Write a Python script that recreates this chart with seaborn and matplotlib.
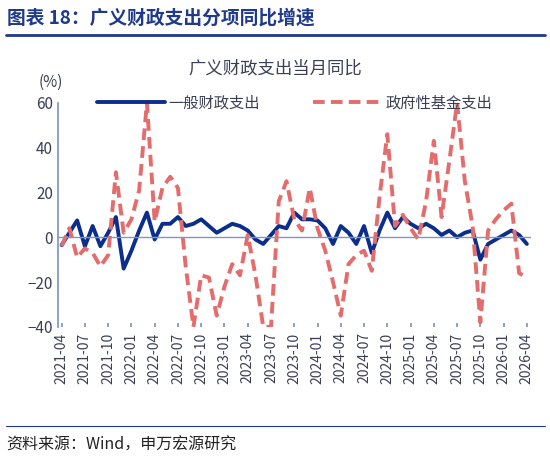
import matplotlib
matplotlib.use("Agg")
import matplotlib.pyplot as plt
import seaborn as sns
import pandas as pd

months = pd.period_range("2021-04", "2026-04", freq="M").strftime("%Y-%m").tolist()
general = [-3.5, 2, 7.5, -4, 5, -4, 2, 9, -14, -6, 3, 11, -1, 6, 6, 9, 5, 6, 8, 5, 2, 4, 6, 5, 3, -1, -3, 1, 5, 4,
           11, 8, 8, 7.5, 4, -3, 5, 2, -3, 5, -7, 3, 11, 4, 9, 6, 4, 6, 4, 1, 3, 0, 2, 3, -10, -3, -1, 1, 3, 1, -3]
fund = [-4, 4, -9, -5, -7, -13, -8, 29, 2, 8, 21, 60, 7, 22, 27, 22, -13, -40, -17, -18, -35, -22, -12, -17, 1, -17, -40, -40, 16, 25,
        8, 3, 22, 4, -6, -20, -35, -12, -8, -6, -15, 18, 46, 5, 10, 4, -1, 16, 43, 9, 34, 60, 25, 5, -38, 3, 8, 12, 15, -16, -18]

sns.set_theme(style="white")
plt.rcParams['font.family'] = ['Noto Sans CJK SC', 'DejaVu Sans']
txt = "#3A3F55"

df = pd.DataFrame({"month": range(len(months)), "一般财政支出": general, "政府性基金支出": fund})
fig = plt.figure(figsize=(5.5, 4.61), dpi=100)
ax = fig.add_axes([0.105, 0.291, 0.86, 0.486])
sns.lineplot(data=df, x="month", y="一般财政支出", ax=ax, color="#0B2D8C", lw=2.8, label="一般财政支出")
sns.lineplot(data=df, x="month", y="政府性基金支出", ax=ax, color="#E46C6C", lw=2.8, ls=(0, (3, 1.6)), label="政府性基金支出")
ax.set_ylim(-40, 60)
ax.set_xlim(-0.5, len(months) - 0.5)
ax.set_yticks([-40, -20, 0, 20, 40, 60])
ax.set_xticks(range(0, len(months), 3))
ax.set_xticklabels(months[::3], rotation=90, fontsize=10, color=txt)
ax.tick_params(axis='y', labelsize=11, labelcolor=txt)
ax.set_xlabel(""); ax.set_ylabel("")
for s in ["top", "right", "bottom"]:
    ax.spines[s].set_visible(False)
ax.spines["left"].set_color("#8096C0")
ax.axhline(0, color="#8096C0", lw=1)
ax.tick_params(axis='x', length=3, direction='in', color="#8096C0", bottom=True, pad=4)
ax.tick_params(axis='y', length=0)
leg = ax.legend(loc="upper center", bbox_to_anchor=(0.5, 1.1), ncol=2, frameon=False, fontsize=11,
                handlelength=4.5, handletextpad=0.2, columnspacing=3.5)
for t in leg.get_texts():
    t.set_color(txt)
ax.text(-0.04, 1.07, "(%)", transform=ax.transAxes, fontsize=11, color=txt)
fig.text(0.5, 0.84, "广义财政支出当月同比", ha="center", fontsize=12.5, color=txt)
fig.text(0.012, 0.95, "图表 18：广义财政支出分项同比增速", fontsize=13.5, fontweight="bold", color="#1F3A8C")
fig.add_artist(plt.Line2D([0.01, 0.99], [0.925, 0.925], color="#1F3A8C", lw=2))
fig.add_artist(plt.Line2D([0.01, 0.99], [0.075, 0.075], color="#1F3A8C", lw=0.8))
fig.text(0.012, 0.025, "资料来源：Wind，申万宏源研究", fontsize=11.5, color="#222222")
fig.savefig("out.png", dpi=100)
